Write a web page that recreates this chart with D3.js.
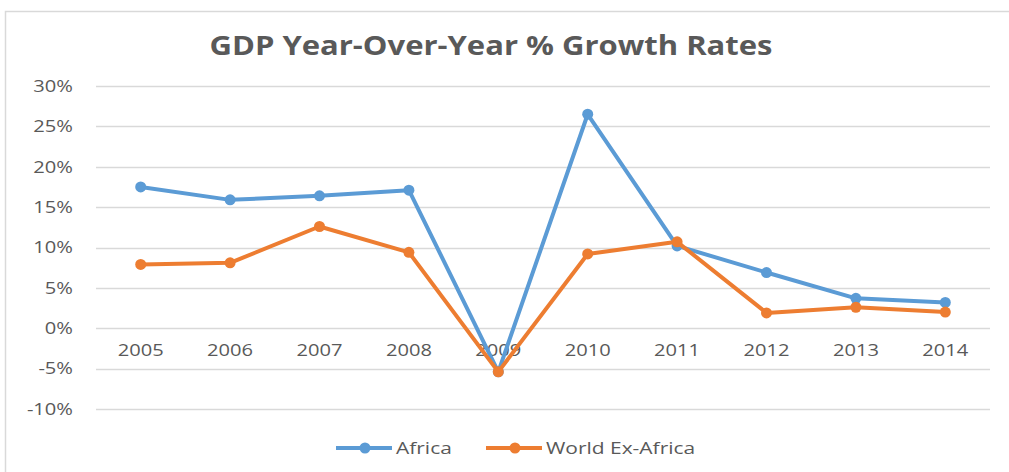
<!DOCTYPE html>
<html>
<head>
<meta charset="utf-8">
<script src="https://cdn.jsdelivr.net/npm/d3@7"></script>
<style>
  body { margin: 0; background: #fff; }
  svg { display: block; font-family: "Open Sans", "Liberation Sans", sans-serif; }
</style>
</head>
<body>
<div id="chart"></div>
<script>
// values (percent)
var years = ["2005", "2006", "2007", "2008", "2009", "2010", "2011", "2012", "2013", "2014"];
var africa = [17.5, 15.9, 16.4, 17.1, -5.4, 26.5, 10.2, 6.9, 3.7, 3.2];
var worldExAfrica = [7.9, 8.1, 12.6, 9.4, -5.4, 9.2, 10.7, 1.9, 2.6, 2.0];
var yTicks = [-10, -5, 0, 5, 10, 15, 20, 25, 30];

var series = [
  { name: "Africa", values: africa, color: "#5B9BD5" },
  { name: "World Ex-Africa", values: worldExAfrica, color: "#ED7D31" }
];

var svgWidth = 1009, svgHeight = 472;
var stretch = "scale(1.22,1)"; // the original text is drawn wide

var svg = d3.select("#chart").append("svg")
  .attr("width", svgWidth)
  .attr("height", svgHeight);

// chart frame
svg.append("rect")
  .attr("x", 5.5).attr("y", 11.5)
  .attr("width", 1100).attr("height", 500)
  .attr("fill", "#fff")
  .attr("stroke", "#d9d9d9")
  .attr("stroke-width", 1.5);

// title
svg.append("text")
  .attr("x", 491).attr("y", 55)
  .attr("text-anchor", "middle")
  .attr("fill", "#595959")
  .attr("font-size", 26)
  .attr("font-weight", 700)
  .attr("textLength", 563)
  .attr("lengthAdjust", "spacingAndGlyphs")
  .text("GDP Year-Over-Year % Growth Rates");

var x = d3.scaleBand().domain(years).range([96, 990]);
var y = d3.scaleLinear().domain([-10, 30]).range([409, 86]);

// gridlines
svg.append("g")
  .selectAll("line")
  .data(yTicks)
  .enter().append("line")
  .attr("x1", 96).attr("x2", 990)
  .attr("y1", function(d) { return Math.round(y(d)) + 0.5; })
  .attr("y2", function(d) { return Math.round(y(d)) + 0.5; })
  .attr("stroke", "#d9d9d9")
  .attr("stroke-width", 1.5);

// y axis labels
var yAxis = d3.axisLeft(y)
  .tickValues(yTicks)
  .tickSize(0)
  .tickPadding(0)
  .tickFormat(function(d) { return d + "%"; });

svg.append("g")
  .attr("transform", "translate(73,0)")
  .call(yAxis)
  .call(function(g) { g.select(".domain").remove(); })
  .selectAll("text")
  .attr("fill", "#595959")
  .attr("font-size", 16.5)
  .attr("font-family", "Open Sans, sans-serif")
  .attr("transform", stretch);

// x axis labels, sitting under the 0% line
var xAxis = d3.axisBottom(x).tickSize(0).tickPadding(0);
svg.append("g")
  .attr("transform", "translate(0," + (y(0) + 16) + ")")
  .call(xAxis)
  .call(function(g) { g.select(".domain").remove(); })
  .selectAll("text")
  .attr("fill", "#595959")
  .attr("font-size", 16.5)
  .attr("font-family", "Open Sans, sans-serif")
  .attr("transform", stretch);

var line = d3.line()
  .x(function(d, i) { return x(years[i]) + x.bandwidth() / 2; })
  .y(function(d) { return y(d); });

series.forEach(function(s) {
  svg.append("path")
    .datum(s.values)
    .attr("fill", "none")
    .attr("stroke", s.color)
    .attr("stroke-width", 4)
    .attr("stroke-linejoin", "round")
    .attr("d", line);

  svg.append("g")
    .selectAll("circle")
    .data(s.values)
    .enter().append("circle")
    .attr("cx", function(d, i) { return x(years[i]) + x.bandwidth() / 2; })
    .attr("cy", function(d) { return y(d); })
    .attr("r", 5.5)
    .attr("fill", s.color);
});

// legend
var legendX = [336, 486];
var legend = svg.append("g")
  .selectAll("g")
  .data(series)
  .enter().append("g")
  .attr("transform", function(d, i) { return "translate(" + legendX[i] + ",448)"; });

legend.append("line")
  .attr("x1", 0).attr("x2", 56)
  .attr("stroke", function(d) { return d.color; })
  .attr("stroke-width", 4);
legend.append("circle")
  .attr("cx", 29).attr("r", 5.5)
  .attr("fill", function(d) { return d.color; });
legend.append("text")
  .attr("transform", "translate(60,0) scale(1.27,1)")
  .attr("dy", "0.35em")
  .attr("fill", "#595959")
  .attr("font-size", 16.5)
  .text(function(d) { return d.name; });
</script>
</body>
</html>
